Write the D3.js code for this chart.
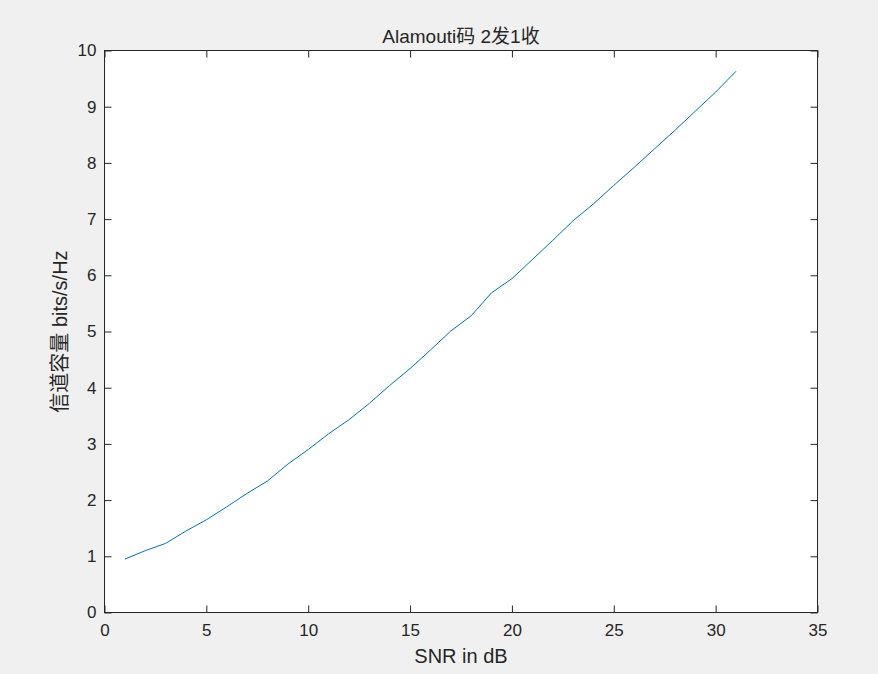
<!DOCTYPE html>
<html>
<head>
<meta charset="utf-8">
<script src="https://cdn.jsdelivr.net/npm/d3@7"></script>
<style>
  html, body { margin: 0; padding: 0; background: #f0f0f0; }
  svg { display: block; }
  text { font-family: "Liberation Sans", Arial, Helvetica, "Noto Sans CJK SC", sans-serif; fill: #262626; }
</style>
</head>
<body>
<svg id="chart" width="878" height="674"></svg>
<script>
const snr = [1,2,3,4,5,6,7,8,9,10,11,12,13,14,15,16,17,18,19,20,21,22,23,24,25,26,27,28,29,30,31];
const capacity = [0.95,1.10,1.23,1.45,1.65,1.88,2.12,2.34,2.64,2.90,3.18,3.43,3.72,4.04,4.34,4.67,5.01,5.28,5.69,5.94,6.28,6.62,6.97,7.27,7.60,7.92,8.25,8.58,8.92,9.26,9.63];
const xTicks = [0,5,10,15,20,25,30,35];
const yTicks = [0,1,2,3,4,5,6,7,8,9,10];
const titleText = "Alamouti码 2发1收";
const xLabel = "SNR in dB";
const yLabel = "信道容量 bits/s/Hz";

const svg = d3.select("#chart");
const L = 104.5, R = 817.5, T = 50.5, B = 612.5;
const x = d3.scaleLinear().domain([0, 35]).range([L, R]);
const y = d3.scaleLinear().domain([0, 10]).range([B, T]);
const axisColor = "#262626";
const tickLen = 7;

svg.append("rect").attr("x", L).attr("y", T).attr("width", R - L).attr("height", B - T).attr("fill", "#ffffff");

function styleAxis(g) {
  g.select(".domain").remove();
  g.selectAll(".tick line").attr("stroke", axisColor);
  g.selectAll(".tick text").style("font-size", "17px").attr("fill", axisColor);
}

svg.append("g").attr("transform", `translate(0,${B})`)
  .call(d3.axisBottom(x).tickValues(xTicks).tickSize(-tickLen).tickPadding(11).tickFormat(d3.format("d")))
  .call(styleAxis);
svg.append("g").attr("transform", `translate(0,${T})`)
  .call(d3.axisTop(x).tickValues(xTicks).tickSize(-tickLen).tickFormat(""))
  .call(styleAxis);
svg.append("g").attr("transform", `translate(${L},0)`)
  .call(d3.axisLeft(y).tickValues(yTicks).tickSize(-tickLen).tickPadding(8).tickFormat(d3.format("d")))
  .call(styleAxis);
svg.append("g").attr("transform", `translate(${R},0)`)
  .call(d3.axisRight(y).tickValues(yTicks).tickSize(-tickLen).tickFormat(""))
  .call(styleAxis);

svg.append("rect").attr("x", L).attr("y", T).attr("width", R - L).attr("height", B - T)
  .attr("fill", "none").attr("stroke", axisColor).attr("stroke-width", 1);

const line = d3.line().x((d, i) => x(snr[i])).y(d => y(d));
svg.append("path").datum(capacity).attr("d", line)
  .attr("fill", "none").attr("stroke", "#0072BD").attr("stroke-width", 1);

svg.append("text").attr("x", (L + R) / 2).attr("y", 43).attr("text-anchor", "middle")
  .style("font-size", "19px").text(titleText);
svg.append("text").attr("x", (L + R) / 2).attr("y", 663).attr("text-anchor", "middle")
  .style("font-size", "20px").text(xLabel);
svg.append("text").attr("transform", `translate(67,${(T + B) / 2}) rotate(-90)`).attr("text-anchor", "middle")
  .style("font-size", "20px").text(yLabel);
</script>
</body>
</html>
